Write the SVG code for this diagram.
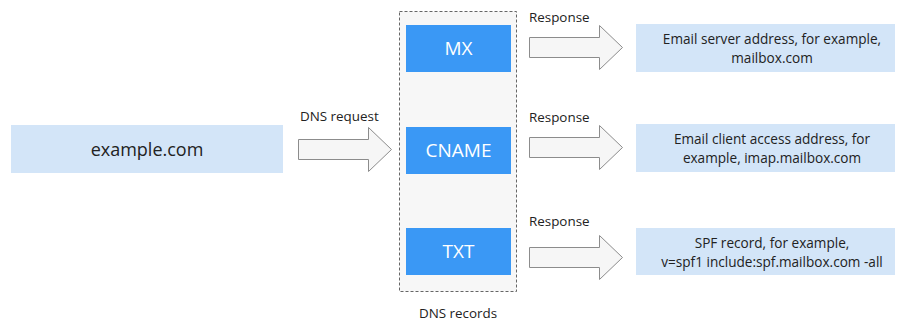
<svg xmlns="http://www.w3.org/2000/svg" width="898" height="322" viewBox="0 0 898 322">
<style>
.lb{fill:#d3e5f8}
.rec{fill:#3a98f5}
.arr{fill:#f6f6f6;stroke:#8c8c8c;stroke-width:1}
text{font-family:"Open Sans","Noto Sans","Liberation Sans",sans-serif;fill:#222}
.t{font-size:13.6px;text-anchor:middle}
.s{font-size:13.4px}
.w{fill:#fff;font-size:19px;text-anchor:middle}
</style>
<defs>
<path id="bigarrow" d="M0,-10 L70,-10 L70,-22 L93,0 L70,22 L70,10 L0,10 Z"/>
</defs>
<rect width="898" height="322" fill="#fff"/>
<g id="container">
<rect x="399.5" y="11.5" width="117" height="280" fill="#f7f7f7" stroke="#666" stroke-dasharray="3,2"/>
<text x="458" y="318" class="s" text-anchor="middle">DNS records</text>
</g>
<g id="domain">
<rect x="11" y="125" width="272" height="48" class="lb"/>
<text x="147" y="156" font-size="18" text-anchor="middle">example.com</text>
</g>
<g id="mx">
<rect x="406" y="25" width="105" height="47" class="rec"/>
<text x="458.5" y="55" class="w">MX</text>
</g>
<g id="cname">
<rect x="406" y="127" width="105" height="47" class="rec"/>
<text x="458.5" y="157" class="w">CNAME</text>
</g>
<g id="txt">
<rect x="406" y="228" width="105" height="47" class="rec"/>
<text x="458.5" y="258" class="w">TXT</text>
</g>
<g id="mx-result">
<rect x="636" y="24" width="259" height="48" class="lb"/>
<text class="t" x="772" y="44">Email server address, for example,</text>
<text class="t" x="772" y="63">mailbox.com</text>
</g>
<g id="cname-result">
<rect x="636" y="124" width="259" height="48" class="lb"/>
<text class="t" x="772" y="144">Email client access address, for</text>
<text class="t" x="772" y="163">example, imap.mailbox.com</text>
</g>
<g id="txt-result">
<rect x="636" y="228" width="259" height="47" class="lb"/>
<text class="t" x="772" y="248">SPF record, for example,</text>
<text class="t" x="772" y="267">v=spf1 include:spf.mailbox.com -all</text>
</g>
<g id="connectors">
<use href="#bigarrow" x="298.5" y="149.5" class="arr"/>
<text x="300" y="121" class="s">DNS request</text>
<use href="#bigarrow" x="529.5" y="47.5" class="arr"/>
<text x="529" y="22" class="s">Response</text>
<use href="#bigarrow" x="529.5" y="147.5" class="arr"/>
<text x="529" y="122" class="s">Response</text>
<use href="#bigarrow" x="529.5" y="257.5" class="arr"/>
<text x="529" y="226" class="s">Response</text>
</g>
</svg>
